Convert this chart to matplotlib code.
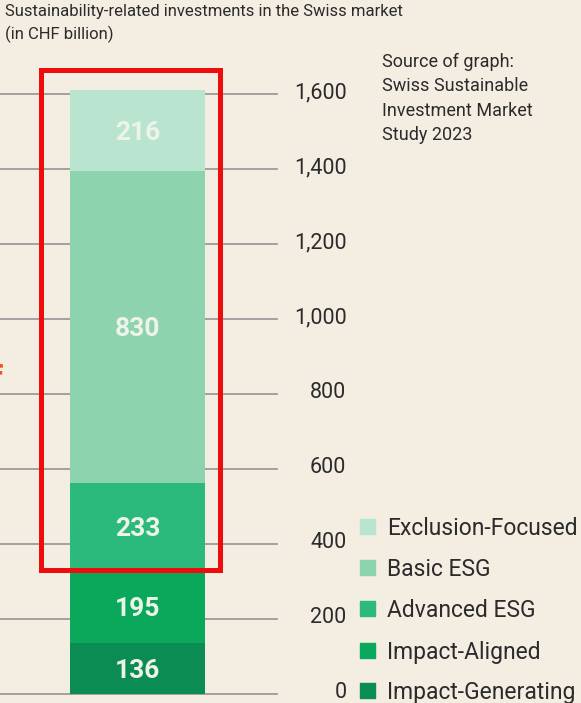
import matplotlib
matplotlib.use("Agg")
import matplotlib.pyplot as plt
from matplotlib.patches import Rectangle
from matplotlib.transforms import ScaledTranslation

plt.rcParams['font.family'] = ['Roboto', 'DejaVu Sans']

# stacked values, bottom to top (CHF billion)
categories = ['Impact-Generating', 'Impact-Aligned', 'Advanced ESG', 'Basic ESG', 'Exclusion-Focused']
values = [136, 195, 233, 830, 216]
colors = ['#0b8c52', '#0aa85a', '#2bb97c', '#8dd3ad', '#b9e5d0']
ticks = [0, 200, 400, 600, 800, 1000, 1200, 1400, 1600]
tick_labels = ['0', '200', '400', '600', '800', '1,000', '1,200', '1,400', '1,600']

bg = '#f3ede2'
ink = '#2b2b2b'

W, H = 581, 703
fig = plt.figure(figsize=(W / 100, H / 100), dpi=100, facecolor=bg)

# y scale: 0.375 px per unit, zero line 9 px above bottom
ymax = 1700
ax = fig.add_axes([0, 9 / H, 277 / W, ymax * 0.375 / H])
ax.set_facecolor(bg)
ax.set_xlim(0, 277)
ax.set_ylim(0, ymax)

for t in ticks:
    ax.axhline(t, color='#9c9c9c', lw=1.3, zorder=1, clip_on=False)

bottom = 0
for v, c in zip(values, colors):
    ax.bar(137.5, v, width=135, bottom=bottom, color=c, zorder=2)
    ax.text(137.5, bottom + v / 2, f'{v}', ha='center', va='center_baseline',
            color='#eef3ea', fontsize=19, fontweight='bold', zorder=3)
    bottom += v

# highlight frame around the top three segments
top3_base = values[0] + values[1]
ax.add_patch(Rectangle((40.5, top3_base), 179, 1665 - top3_base, fill=False,
                       edgecolor='#ee0c0c', lw=3.6, zorder=4, clip_on=False))

for s in ax.spines.values():
    s.set_visible(False)
ax.set_xticks([])
ax.yaxis.tick_right()
ax.set_yticks(ticks)
ax.set_yticklabels(tick_labels)
ax.tick_params(axis='y', length=0, pad=50, labelsize=15.5, labelcolor=ink)
lift = ScaledTranslation(0, 4 / 100, fig.dpi_scale_trans)
for lab in ax.get_yticklabels():
    lab.set_horizontalalignment('right')
    lab.set_transform(lab.get_transform() + lift)

fig.text(5 / W, 1 - 4 / H, 'Sustainability-related investments in the Swiss market\n(in CHF billion)',
         ha='left', va='top', fontsize=12, color=ink, linespacing=1.5)

fig.text(382 / W, 1 - 53 / H, 'Source of graph:\nSwiss Sustainable\nInvestment Market\nStudy 2023',
         ha='left', va='top', fontsize=13, color=ink, linespacing=1.45)

# legend, top entry first
legend_y = [526, 567, 608, 650, 690]
for name, c, yy in zip(categories[::-1], colors[::-1], legend_y):
    fig.patches.append(Rectangle((360 / W, 1 - (yy + 7.5) / H), 15 / W, 15 / H,
                                 transform=fig.transFigure, color=c))
    fig.text(387 / W, 1 - yy / H, name, ha='left', va='center_baseline', fontsize=16.5, color=ink)

# clipped orange glyph at the left edge
fig.text(-8 / W, 1 - 379 / H, 'f', ha='left', va='center', fontsize=22,
         fontweight='bold', color='#f0531f')

fig.savefig('out.png', dpi=100, facecolor=bg)
